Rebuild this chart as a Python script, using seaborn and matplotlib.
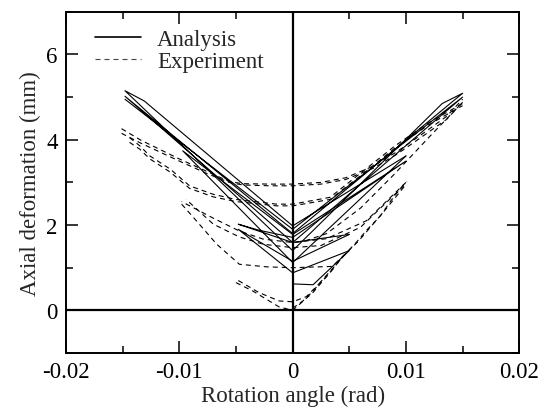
import matplotlib
matplotlib.use("Agg")
import matplotlib.pyplot as plt
import seaborn as sns
import pandas as pd
from matplotlib.lines import Line2D
from matplotlib.ticker import MultipleLocator

# Analysis (solid) paths: rotation angle (rad) vs axial deformation (mm)
ana_a_x = [0.0, 0.0018, 0.005, 0.0, -0.0048, 0.0, 0.005]
ana_a_y = [0.62, 0.60, 1.40, 0.88, 1.90, 1.15, 1.78]
ana_b_x = [0.005, 0.0, -0.0048, -0.0030, 0.0, 0.0100, 0.0, -0.0097, 0.0, 0.0100]
ana_b_y = [1.78, 1.59, 2.02, 1.88, 1.71, 3.50, 1.78, 3.74, 1.12, 3.62]
ana_c_x = [0.0100, 0.0, -0.0131, -0.0148, 0.0, 0.0132, 0.0150, 0.0, -0.0148, 0.0, 0.0150, 0.0, -0.0148]
ana_c_y = [3.62, 1.98, 4.91, 5.15, 1.40, 4.85, 5.09, 1.80, 5.02, 1.59, 5.00, 1.90, 4.95]

# Experiment (dashed) paths
exp_j_x = [0.0, 0.0009, 0.0018, 0.0027, 0.0036, 0.0046, 0.0056, 0.0066, 0.0077, 0.0087, 0.0097, 0.0101]
exp_j_y = [0.05, 0.22, 0.45, 0.74, 1.00, 1.31, 1.59, 1.90, 2.20, 2.58, 2.92, 3.02]
exp_s1_x = [0.0046, 0.0030, 0.0012, 0.0, -0.0012, -0.0030, -0.0050]
exp_s1_y = [1.31, 0.80, 0.32, 0.20, 0.22, 0.42, 0.73]
exp_s2_x = [-0.0050, -0.0035, -0.0012, 0.0, 0.0018, 0.0036]
exp_s2_y = [0.65, 0.45, 0.08, 0.0, 0.42, 0.98]
exp_m1_x = [-0.0098, -0.0085, -0.0067, -0.0047, -0.0023, 0.0, 0.0035, 0.0058, 0.0080, 0.0100]
exp_m1_y = [2.49, 2.10, 1.55, 1.08, 1.02, 1.00, 1.03, 1.62, 2.30, 2.95]
exp_m2_x = [0.0100, 0.0065, 0.0030, 0.0, -0.0026, -0.0047, -0.0070, -0.0098]
exp_m2_y = [3.00, 2.10, 1.68, 1.59, 1.67, 1.86, 2.16, 2.55]
exp_m3_x = [0.0098, 0.0060, 0.0025, 0.0, -0.0026, -0.0047, -0.0070, -0.0094]
exp_m3_y = [2.92, 1.95, 1.52, 1.47, 1.55, 1.72, 2.02, 2.60]
exp_l_x = [-0.0151, -0.0134, -0.0100, -0.0075, -0.0056, -0.0044, -0.0020, 0.0, 0.0025, 0.0047, 0.0071, 0.0092, 0.0112, 0.0136, 0.0150]
exp_l1_y = [4.26, 3.99, 3.55, 3.25, 3.02, 2.97, 2.96, 2.96, 3.00, 3.11, 3.38, 3.72, 4.09, 4.55, 4.95]
exp_l2_y = [4.15, 3.92, 3.50, 3.20, 3.00, 2.94, 2.92, 2.92, 2.96, 3.07, 3.33, 3.66, 4.03, 4.48, 4.88]
exp_k_x = [-0.0144, -0.0135, -0.0126, -0.0108, -0.0091, -0.0070, -0.0050, -0.0014, 0.0, 0.0033, 0.0062, 0.0090, 0.0120, 0.0150]
exp_k1_y = [4.05, 3.86, 3.62, 3.31, 2.92, 2.72, 2.60, 2.49, 2.49, 2.65, 3.26, 3.85, 4.40, 4.85]
exp_k2_y = [3.94, 3.78, 3.55, 3.24, 2.86, 2.66, 2.55, 2.45, 2.45, 2.60, 3.20, 3.80, 4.35, 4.80]
exp_r_x = [0.0150, 0.0120, 0.0090, 0.0060, 0.0030, 0.0010, 0.0]
exp_r_y = [4.88, 4.05, 3.20, 2.40, 1.80, 1.62, 1.60]

x_ticks = [-0.02, -0.01, 0, 0.01, 0.02]
x_tick_labels = ['-0.02', '-0.01', '0', '0.01', '0.02']
y_ticks = [0, 2, 4, 6]
y_tick_labels = ['0', '2', '4', '6']

paths = [
    ('Analysis', ana_a_x, ana_a_y),
    ('Analysis', ana_b_x, ana_b_y),
    ('Analysis', ana_c_x, ana_c_y),
    ('Experiment', exp_j_x, exp_j_y),
    ('Experiment', exp_s1_x, exp_s1_y),
    ('Experiment', exp_s2_x, exp_s2_y),
    ('Experiment', exp_m1_x, exp_m1_y),
    ('Experiment', exp_m2_x, exp_m2_y),
    ('Experiment', exp_m3_x, exp_m3_y),
    ('Experiment', exp_l_x, exp_l1_y),
    ('Experiment', exp_l_x, exp_l2_y),
    ('Experiment', exp_k_x, exp_k1_y),
    ('Experiment', exp_k_x, exp_k2_y),
    ('Experiment', exp_r_x, exp_r_y),
]
rows = []
for i, (kind, xs, ys) in enumerate(paths):
    for x, y in zip(xs, ys):
        rows.append({'rot': x, 'defo': y, 'path': i, 'kind': kind})
df = pd.DataFrame(rows)

sns.set_style('ticks')
plt.rcParams['font.family'] = ['Liberation Serif', 'DejaVu Serif']
fs = 16.5

fig = plt.figure(figsize=(5.46, 4.14), dpi=100)
ax = fig.add_axes([0.121, 0.145, 0.830, 0.824])

sns.lineplot(data=df, x='rot', y='defo', units='path', estimator=None, sort=False,
             style='kind', dashes={'Analysis': '', 'Experiment': (4.5, 3.6)},
             color='k', lw=0.8, legend=False, ax=ax)

ax.axhline(0, color='k', lw=1.6, zorder=3)
ax.axvline(0, color='k', lw=1.6, zorder=3)

ax.set_xlim(-0.02, 0.02)
ax.set_ylim(-1, 7)
ax.set_xticks(x_ticks)
ax.set_xticklabels(x_tick_labels)
ax.set_yticks(y_ticks)
ax.set_yticklabels(y_tick_labels)
ax.xaxis.set_minor_locator(MultipleLocator(0.005))
ax.yaxis.set_minor_locator(MultipleLocator(1))
ax.tick_params(which='both', direction='in', top=True, right=True, width=1.1,
               labelsize=fs, color='k', labelcolor='k')
ax.tick_params(which='major', length=8.5, pad=6)
ax.tick_params(which='minor', length=5)
for s in ax.spines.values():
    s.set_linewidth(1.4)
    s.set_color('k')

ax.set_xlabel('Rotation angle (rad)', fontsize=fs, labelpad=2)
ax.set_ylabel('Axial deformation (mm)', fontsize=fs, labelpad=4)

handles = [Line2D([], [], color='k', lw=1.2),
           Line2D([], [], color='#444444', lw=0.8, dashes=(4.5, 3.6))]
ax.legend(handles, ['Analysis', 'Experiment'], loc='upper left',
          bbox_to_anchor=(0.064, 0.95), frameon=False, fontsize=fs,
          handlelength=2.0, handletextpad=0.7, labelspacing=0.05,
          borderpad=0, borderaxespad=0)

fig.savefig('out.png', dpi=100)
